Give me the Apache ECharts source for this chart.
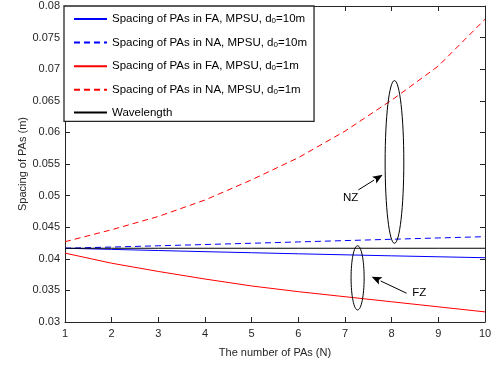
<!DOCTYPE html>
<html><head><meta charset="utf-8">
<script src="https://cdn.jsdelivr.net/npm/echarts@6/dist/echarts.min.js"></script>
<style>html,body{margin:0;padding:0;background:#fff}#c{width:495px;height:366px}</style>
</head><body><div id="c"></div>
<script>
var N = [1,2,3,4,5,6,7,8,9,10];
var faD10 = [0.04167,0.04149,0.04131,0.04113,0.04096,0.04079,0.04063,0.04047,0.04032,0.04017];
var naD10 = [0.04167,0.04186,0.04206,0.04226,0.04246,0.04267,0.04288,0.04309,0.04330,0.04350];
var faD1 = [0.0409,0.0393,0.0380,0.0368,0.0357,0.0348,0.0340,0.0332,0.0324,0.0316];
var naD1 = [0.0427,0.0446,0.0467,0.0493,0.0525,0.0560,0.0602,0.0651,0.0705,0.0779];
var wavelength = [0.041667,0.041667,0.041667,0.041667,0.041667,0.041667,0.041667,0.041667,0.041667,0.041667];
var names = ['Spacing of PAs in FA, MPSU, d0=10m','Spacing of PAs in NA, MPSU, d0=10m','Spacing of PAs in FA, MPSU, d0=1m','Spacing of PAs in NA, MPSU, d0=1m','Wavelength'];
// annotation anchors in data coords
var nzEllipse = {n:8.06, top:0.0682, bottom:0.04245, halfN:0.2};
var fzEllipse = {n:7.27, top:0.04207, bottom:0.0319, halfN:0.14};
var nzArrow = {from:[7.285,0.0509], to:[7.807,0.0533], label:[7.12,0.0496], text:'NZ'};
var fzArrow = {from:[8.32,0.03455], to:[7.57,0.03717], label:[8.59,0.03455], text:'FZ'};

var FONT = 'Liberation Sans, Arial, Helvetica, sans-serif';
var AX = '#262626';
function pairs(a){return N.map(function(n,i){return [n,a[i]];});}
var dash=[6,4];
var chart = echarts.init(document.getElementById('c'));
var axisCommon = {
  axisLine:{show:true,lineStyle:{color:AX,width:1}},
  axisTick:{show:true,inside:true,length:5,lineStyle:{color:AX}},
  splitLine:{show:false}
};
chart.setOption({
  animation:false,
  backgroundColor:'#fff',
  grid:{left:65,right:10,top:6,bottom:44},
  legend:{
    orient:'vertical',left:64,top:6,
    backgroundColor:'#fff',borderColor:'#262626',borderWidth:1.3,
    padding:[6,7,3,9],itemWidth:33,itemHeight:10,itemGap:10.6,
    itemStyle:{opacity:0},
    data:names,
    formatter:function(name){return name.replace('d0=','d{sub|0}=');},
    textStyle:{fontFamily:FONT,fontSize:11.5,color:'#000',lineHeight:12,
      rich:{sub:{fontFamily:FONT,fontSize:8,lineHeight:12,verticalAlign:'bottom',padding:[5,0,0,0],color:'#000'}}}
  },
  xAxis:[
    Object.assign({type:'value',min:1,max:10,interval:1,position:'bottom',
      name:'The number of PAs (N)',nameLocation:'middle',nameGap:25,nameMoveOverlap:false,
      nameTextStyle:{fontFamily:FONT,fontSize:11,color:AX},
      axisLabel:{fontFamily:FONT,fontSize:11,color:AX,margin:6}},axisCommon),
    Object.assign({type:'value',min:1,max:10,interval:1,position:'top',axisLabel:{show:false}},axisCommon)
  ],
  yAxis:[
    Object.assign({type:'value',min:0.03,max:0.08,interval:0.005,position:'left',
      name:'Spacing of PAs (m)',nameLocation:'middle',nameGap:37,nameMoveOverlap:false,
      nameTextStyle:{fontFamily:FONT,fontSize:11,color:AX},
      axisLabel:{fontFamily:FONT,fontSize:11,color:AX,margin:5}},axisCommon),
    Object.assign({type:'value',min:0.03,max:0.08,interval:0.005,position:'right',axisLabel:{show:false}},axisCommon)
  ],
  series:[
    {name:names[0],type:'line',data:pairs(faD10),symbol:'none',color:'#0000ff',lineStyle:{width:1,color:'#0000ff'}},
    {name:names[1],type:'line',data:pairs(naD10),symbol:'none',color:'#0000ff',lineStyle:{width:1,color:'#0000ff',type:dash}},
    {name:names[2],type:'line',data:pairs(faD1),symbol:'none',color:'#ff0000',lineStyle:{width:1,color:'#ff0000'}},
    {name:names[3],type:'line',data:pairs(naD1),symbol:'none',color:'#ff0000',lineStyle:{width:1,color:'#ff0000',type:dash}},
    {name:names[4],type:'line',data:pairs(wavelength),symbol:'none',color:'#000',lineStyle:{width:1,color:'#000'}}
  ]
});
function px(p){return chart.convertToPixel({xAxisIndex:0,yAxisIndex:0},p);}
function ellipse(e){
  var c=px([e.n,(e.top+e.bottom)/2]), t=px([e.n,e.top]), r=px([e.n+e.halfN,e.top]);
  return {type:'ellipse',shape:{cx:c[0],cy:c[1],rx:r[0]-c[0],ry:c[1]-t[1]},
    style:{fill:null,stroke:'#000',lineWidth:1},z:100};
}
function arrow(a){
  var f=px(a.from), t=px(a.to), l=px(a.label);
  var dx=t[0]-f[0], dy=t[1]-f[1], len=Math.sqrt(dx*dx+dy*dy), ux=dx/len, uy=dy/len;
  var hl=10, hw=4;
  var bx=t[0]-ux*hl, by=t[1]-uy*hl;
  return [
    {type:'line',shape:{x1:f[0],y1:f[1],x2:bx,y2:by},style:{stroke:'#000',lineWidth:1},z:100},
    {type:'polygon',shape:{points:[[t[0],t[1]],[bx-uy*hw,by+ux*hw],[bx+ux*2,by+uy*2],[bx+uy*hw,by-ux*hw]]},style:{fill:'#000'},z:100},
    {type:'text',x:l[0],y:l[1],style:{text:a.text,fontFamily:FONT,fontSize:11.5,fill:'#000',align:'center',verticalAlign:'middle'},z:100}
  ];
}
chart.setOption({graphic:{elements:[ellipse(nzEllipse),ellipse(fzEllipse)].concat(arrow(nzArrow),arrow(fzArrow))}});
</script></body></html>
